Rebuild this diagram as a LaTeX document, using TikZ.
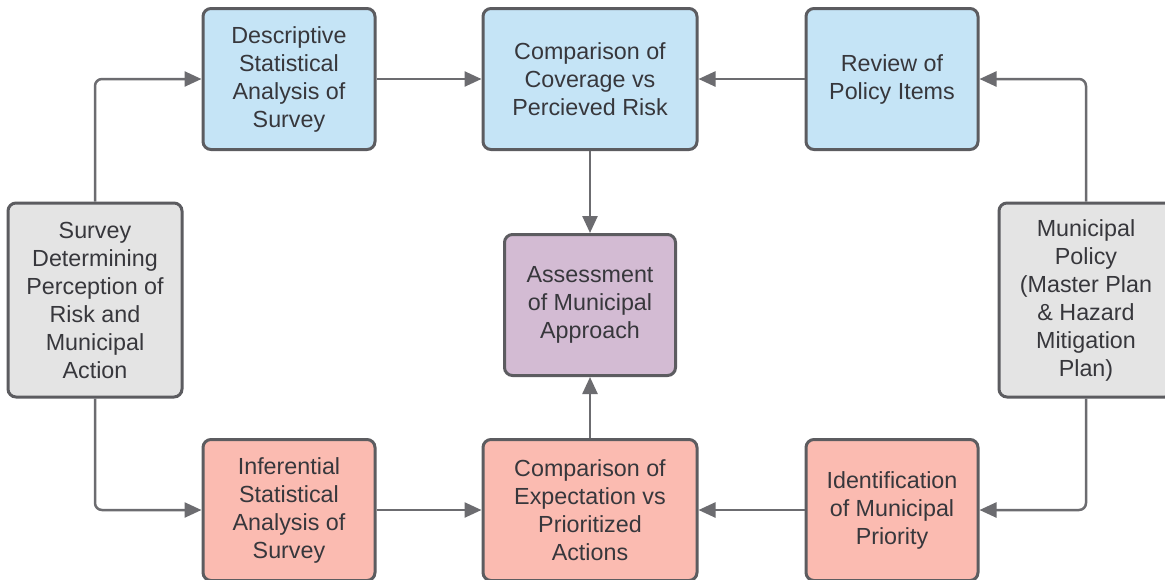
\documentclass[tikz,border=0pt]{standalone}
\usepackage{fontspec}
\setmainfont{Liberation Sans}
\usetikzlibrary{arrows.meta, positioning}
\definecolor{boxblue}{RGB}{197, 228, 246}
\definecolor{boxred}{RGB}{251, 187, 177}
\definecolor{boxpurple}{RGB}{211, 187, 211}
\definecolor{boxgray}{RGB}{228, 228, 228}
\definecolor{edgegray}{RGB}{92, 92, 96}
\definecolor{textgray}{RGB}{55, 55, 60}

\begin{document}
\begin{tikzpicture}[x=1pt, y=-1pt,
  box/.style={draw=edgegray, line width=3pt, rounded corners=8pt, minimum width=172pt, minimum height=141pt, align=center, text=textgray, inner sep=2pt, font=\fontsize{23.3}{28}\selectfont},
  bluebox/.style={box, fill=boxblue},
  redbox/.style={box, fill=boxred},
  graybox/.style={box, fill=boxgray, minimum height=194pt},
  conn/.style={draw=edgegray!90, line width=2.5pt, rounded corners=7pt, -{Triangle[length=17pt, width=15pt]}}
]
  \useasboundingbox[fill=white] (0,0) rectangle (1165,579);

  % top row
  \node[bluebox] (desc) at (289, 79) {Descriptive\\Statistical\\Analysis of\\Survey};
  \node[bluebox, minimum width=214pt] (cover) at (590, 79) {Comparison of\\Coverage vs\\Percieved Risk};
  \node[bluebox] (review) at (892, 79) {Review of\\Policy Items};

  % middle row
  \node[graybox, minimum width=174pt] (survey) at (95, 300) {Survey\\Determining\\Perception of\\Risk and\\Municipal\\Action};
  \node[box, fill=boxpurple, minimum width=171pt] (assess) at (590, 305) {Assessment\\of Municipal\\Approach};
  \node[graybox, minimum width=174pt] (policy) at (1086, 300) {Municipal\\Policy\\(Master Plan\\\& Hazard\\Mitigation\\Plan)};

  % bottom row
  \node[redbox] (infer) at (289, 510) {Inferential\\Statistical\\Analysis of\\Survey};
  \node[redbox, minimum width=214pt] (expect) at (590, 510) {Comparison of\\Expectation vs\\Prioritized\\Actions};
  \node[redbox] (ident) at (892, 510) {Identification\\of Municipal\\Priority};

  % connectors
  \draw[conn] (survey.north) |- (desc.west);
  \draw[conn] (survey.south) |- (infer.west);
  \draw[conn] (desc) -- (cover);
  \draw[conn] (review) -- (cover);
  \draw[conn] (policy.north) |- (review.east);
  \draw[conn] (policy.south) |- (ident.east);
  \draw[conn] (infer) -- (expect);
  \draw[conn] (ident) -- (expect);
  \draw[conn] (cover) -- (assess);
  \draw[conn] (expect) -- (assess);
\end{tikzpicture}
\end{document}
